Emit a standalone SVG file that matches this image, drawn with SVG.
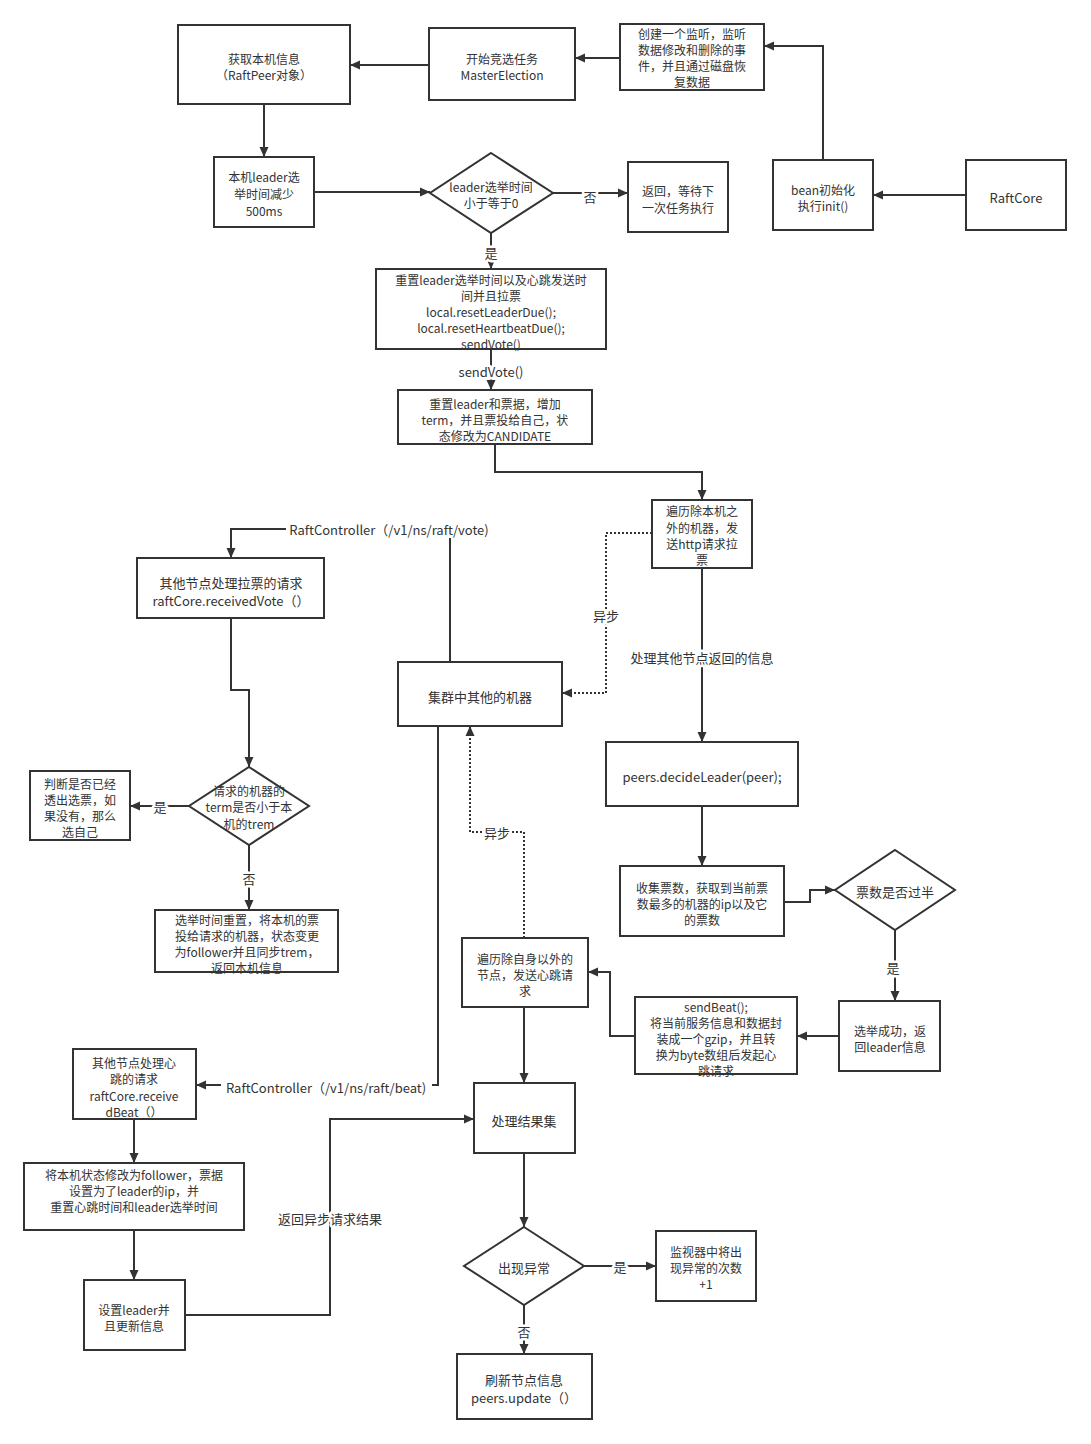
<svg xmlns="http://www.w3.org/2000/svg" width="1091" height="1444" viewBox="0 0 1091 1444">
<style>
.n rect,.n polygon{fill:#fff;stroke:#333;stroke-width:2}
text{font-family:"Noto Sans CJK SC","Liberation Sans",sans-serif;font-size:13px;fill:#333;text-anchor:middle;dominant-baseline:central}
.n text.m{font-size:12px}
.c path{fill:none;stroke:#333;stroke-width:2}
.c path.d{stroke-dasharray:2 2}
.l{paint-order:stroke;stroke:#fff;stroke-width:5px;stroke-linejoin:round}
</style>
<defs>
<marker id="a" viewBox="0 0 10 10" refX="10" refY="5" markerWidth="10" markerHeight="10" markerUnits="userSpaceOnUse" orient="auto"><path d="M0,0.5L10,5L0,9.5z" fill="#333"/></marker>
</defs>
<rect width="1091" height="1444" fill="#fff"/>
<g class="c">
<path d="M429,65H350" marker-end="url(#a)"/>
<path d="M620,58H575" marker-end="url(#a)"/>
<path d="M823,160V46H764" marker-end="url(#a)"/>
<path d="M966,195H873" marker-end="url(#a)"/>
<path d="M264,104V157" marker-end="url(#a)"/>
<path d="M314,192H430" marker-end="url(#a)"/>
<path d="M553,193H628" marker-end="url(#a)"/>
<path d="M491,233V269" marker-end="url(#a)"/>
<path d="M491,349V390" marker-end="url(#a)"/>
<path d="M495,444V472H702V500" marker-end="url(#a)"/>
<path class="d" d="M652,533H606V693H562" marker-end="url(#a)"/>
<path d="M702,568V742" marker-end="url(#a)"/>
<path d="M450,662V538"/>
<path d="M286,529H231V558" marker-end="url(#a)"/>
<path d="M231,618V690H249V767" marker-end="url(#a)"/>
<path d="M189,806H130" marker-end="url(#a)"/>
<path d="M249,845V910" marker-end="url(#a)"/>
<path d="M702,806V866" marker-end="url(#a)"/>
<path d="M784,902H810V890H835" marker-end="url(#a)"/>
<path d="M895,930V1001" marker-end="url(#a)"/>
<path d="M839,1036H797" marker-end="url(#a)"/>
<path d="M635,1036H610V972H588" marker-end="url(#a)"/>
<path class="d" d="M524,938V832H470V726" marker-end="url(#a)"/>
<path d="M524,1007V1083" marker-end="url(#a)"/>
<path d="M438,726V1085H432"/>
<path d="M221,1085H196" marker-end="url(#a)"/>
<path d="M134,1119V1163" marker-end="url(#a)"/>
<path d="M134,1230V1280" marker-end="url(#a)"/>
<path d="M185,1315H330V1119H474" marker-end="url(#a)"/>
<path d="M524,1153V1227" marker-end="url(#a)"/>
<path d="M584,1266H656" marker-end="url(#a)"/>
<path d="M524,1305V1354" marker-end="url(#a)"/>
<text class="l" x="590" y="196">否</text>
<text class="l" x="491" y="252">是</text>
<text class="l" x="491" y="371">sendVote()</text>
<text class="l" x="606" y="615">异步</text>
<text class="l" x="702" y="657">处理其他节点返回的信息</text>
<text x="389" y="529">RaftController（/v1/ns/raft/vote)</text>
<text class="l" x="160" y="806">是</text>
<text class="l" x="249" y="878">否</text>
<text class="l" x="893" y="967">是</text>
<text class="l" x="497" y="832">异步</text>
<text x="326" y="1087">RaftController（/v1/ns/raft/beat)</text>
<text class="l" x="330" y="1218">返回异步请求结果</text>
<text class="l" x="620" y="1266">是</text>
<text class="l" x="524" y="1331">否</text>
</g>
<g id="n1" class="n"><rect x="178" y="25" width="172" height="79"/><text class="m" x="264"><tspan x="264" y="58">获取本机信息</tspan><tspan x="264" y="74">（RaftPeer对象）</tspan></text></g>
<g id="n2" class="n"><rect x="429" y="28" width="146" height="72"/><text class="m" x="502"><tspan x="502" y="58">开始竞选任务</tspan><tspan x="502" y="74">MasterElection</tspan></text></g>
<g id="n3" class="n"><rect x="620" y="24" width="144" height="66"/><text class="m" x="692"><tspan x="692" y="33">创建一个监听，监听</tspan><tspan x="692" y="49">数据修改和删除的事</tspan><tspan x="692" y="65">件，并且通过磁盘恢</tspan><tspan x="692" y="81">复数据</tspan></text></g>
<g id="n4" class="n"><rect x="214" y="157" width="100" height="70"/><text class="m" x="264"><tspan x="264" y="176">本机leader选</tspan><tspan x="264" y="193">举时间减少</tspan><tspan x="264" y="210">500ms</tspan></text></g>
<g id="n5" class="n"><polygon points="491,153 553,193 491,233 430,193"/><text class="m" x="491"><tspan x="491" y="186">leader选举时间</tspan><tspan x="491" y="202">小于等于0</tspan></text></g>
<g id="n6" class="n"><rect x="628" y="162" width="100" height="70"/><text class="m" x="678"><tspan x="678" y="190">返回，等待下</tspan><tspan x="678" y="207">一次任务执行</tspan></text></g>
<g id="n7" class="n"><rect x="773" y="160" width="100" height="70"/><text class="m" x="823"><tspan x="823" y="189">bean初始化</tspan><tspan x="823" y="205">执行init()</tspan></text></g>
<g id="n8" class="n"><rect x="966" y="160" width="100" height="70"/><text x="1016" y="197">RaftCore</text></g>
<g id="n9" class="n"><rect x="376" y="269" width="230" height="80"/><text class="m" x="491"><tspan x="491" y="279">重置leader选举时间以及心跳发送时</tspan><tspan x="491" y="295">间并且拉票</tspan><tspan x="491" y="311">local.resetLeaderDue();</tspan><tspan x="491" y="327">local.resetHeartbeatDue();</tspan><tspan x="491" y="343">sendVote()</tspan></text></g>
<g id="n10" class="n"><rect x="398" y="390" width="194" height="54"/><text class="m" x="495"><tspan x="495" y="403">重置leader和票据，增加</tspan><tspan x="495" y="419">term，并且票投给自己，状</tspan><tspan x="495" y="435">态修改为CANDIDATE</tspan></text></g>
<g id="n11" class="n"><rect x="652" y="500" width="100" height="68"/><text class="m" x="702"><tspan x="702" y="510">遍历除本机之</tspan><tspan x="702" y="527">外的机器，发</tspan><tspan x="702" y="543">送http请求拉</tspan><tspan x="702" y="559">票</tspan></text></g>
<g id="n12" class="n"><rect x="137" y="558" width="187" height="60"/><text x="231"><tspan x="231" y="582">其他节点处理拉票的请求</tspan><tspan x="231" y="600">raftCore.receivedVote（）</tspan></text></g>
<g id="n13" class="n"><rect x="398" y="662" width="164" height="64"/><text x="480" y="696">集群中其他的机器</text></g>
<g id="n14" class="n"><rect x="606" y="742" width="192" height="64"/><text x="702" y="776">peers.decideLeader(peer);</text></g>
<g id="n15" class="n"><polygon points="249,767 309,806 249,845 189,806"/><text class="m" x="249"><tspan x="249" y="790">请求的机器的</tspan><tspan x="249" y="806">term是否小于本</tspan><tspan x="249" y="823">机的trem</tspan></text></g>
<g id="n16" class="n"><rect x="30" y="771" width="100" height="69"/><text class="m" x="80"><tspan x="80" y="783">判断是否已经</tspan><tspan x="80" y="799">透出选票，如</tspan><tspan x="80" y="815">果没有，那么</tspan><tspan x="80" y="831">选自己</tspan></text></g>
<g id="n17" class="n"><rect x="155" y="910" width="183" height="62"/><text class="m" x="247"><tspan x="247" y="919">选举时间重置，将本机的票</tspan><tspan x="247" y="935">投给请求的机器，状态变更</tspan><tspan x="247" y="951">为follower并且同步trem，</tspan><tspan x="247" y="967">返回本机信息</tspan></text></g>
<g id="n18" class="n"><rect x="620" y="866" width="164" height="70"/><text class="m" x="702"><tspan x="702" y="887">收集票数，获取到当前票</tspan><tspan x="702" y="903">数最多的机器的ip以及它</tspan><tspan x="702" y="919">的票数</tspan></text></g>
<g id="n19" class="n"><polygon points="895,850 955,890 895,930 835,890"/><text x="895" y="891">票数是否过半</text></g>
<g id="n20" class="n"><rect x="462" y="938" width="126" height="69"/><text class="m" x="525"><tspan x="525" y="958">遍历除自身以外的</tspan><tspan x="525" y="974">节点，发送心跳请</tspan><tspan x="525" y="990">求</tspan></text></g>
<g id="n21" class="n"><rect x="635" y="997" width="162" height="77"/><text class="m" x="716"><tspan x="716" y="1006">sendBeat();</tspan><tspan x="716" y="1022">将当前服务信息和数据封</tspan><tspan x="716" y="1038">装成一个gzip，并且转</tspan><tspan x="716" y="1054">换为byte数组后发起心</tspan><tspan x="716" y="1070">跳请求</tspan></text></g>
<g id="n22" class="n"><rect x="839" y="1001" width="101" height="70"/><text class="m" x="890"><tspan x="890" y="1030">选举成功，返</tspan><tspan x="890" y="1046">回leader信息</tspan></text></g>
<g id="n23" class="n"><rect x="73" y="1049" width="123" height="70"/><text class="m" x="134"><tspan x="134" y="1062">其他节点处理心</tspan><tspan x="134" y="1078">跳的请求</tspan><tspan x="134" y="1095">raftCore.receive</tspan><tspan x="134" y="1111">dBeat（）</tspan></text></g>
<g id="n24" class="n"><rect x="474" y="1083" width="101" height="70"/><text x="524" y="1120">处理结果集</text></g>
<g id="n25" class="n"><rect x="24" y="1163" width="220" height="67"/><text class="m" x="134"><tspan x="134" y="1174">将本机状态修改为follower，票据</tspan><tspan x="134" y="1190">设置为了leader的ip，并</tspan><tspan x="134" y="1206">重置心跳时间和leader选举时间</tspan></text></g>
<g id="n26" class="n"><polygon points="524,1227 584,1266 524,1305 464,1266"/><text x="524" y="1267">出现异常</text></g>
<g id="n27" class="n"><rect x="656" y="1231" width="100" height="70"/><text class="m" x="706"><tspan x="706" y="1251">监视器中将出</tspan><tspan x="706" y="1267">现异常的次数</tspan><tspan x="706" y="1283">+1</tspan></text></g>
<g id="n28" class="n"><rect x="84" y="1280" width="101" height="70"/><text class="m" x="134"><tspan x="134" y="1309">设置leader并</tspan><tspan x="134" y="1325">且更新信息</tspan></text></g>
<g id="n29" class="n"><rect x="457" y="1354" width="135" height="65"/><text x="524"><tspan x="524" y="1379">刷新节点信息</tspan><tspan x="524" y="1397">peers.update（）</tspan></text></g>
</svg>
